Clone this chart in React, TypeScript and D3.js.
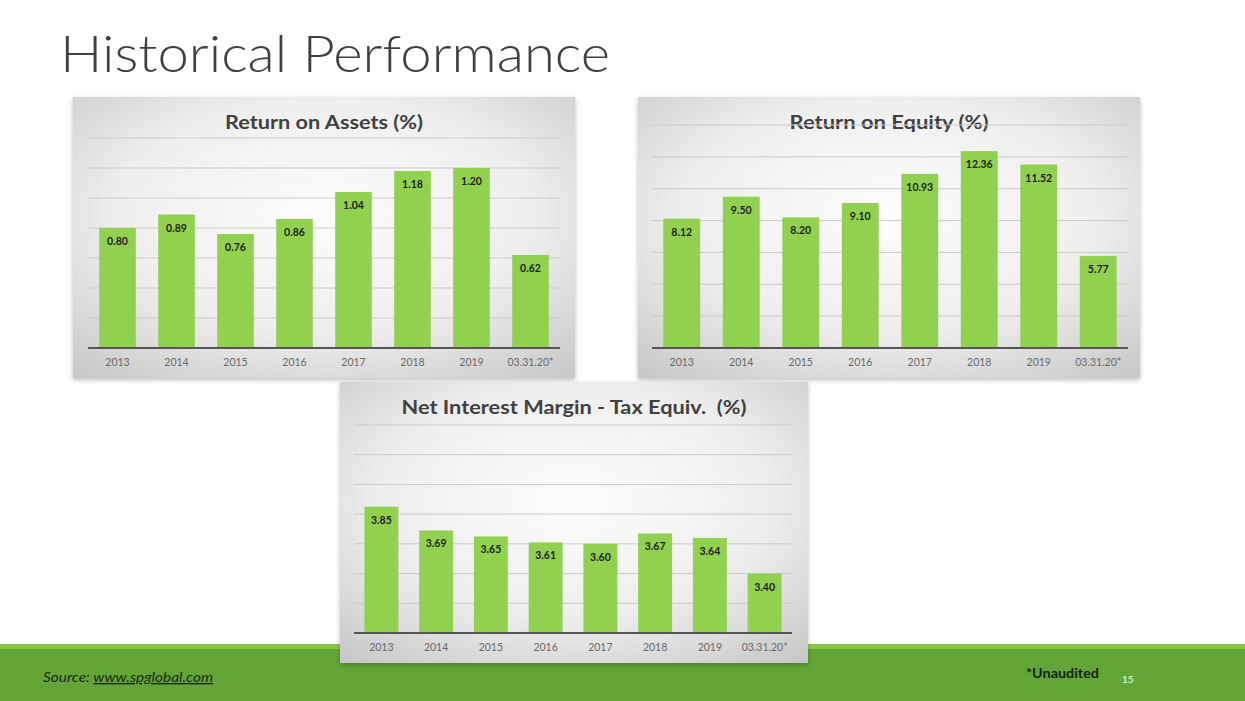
import React from "react";
import * as d3 from "d3";

const categories = ["2013", "2014", "2015", "2016", "2017", "2018", "2019", "03.31.20*"];
const roaValues = [0.8, 0.89, 0.76, 0.86, 1.04, 1.18, 1.2, 0.62];
const roeValues = [8.12, 9.5, 8.2, 9.1, 10.93, 12.36, 11.52, 5.77];
const nimValues = [3.85, 3.69, 3.65, 3.61, 3.6, 3.67, 3.64, 3.4];
const roaTicks = [0, 0.2, 0.4, 0.6, 0.8, 1.0, 1.2, 1.4];
const roeTicks = [0, 2, 4, 6, 8, 10, 12, 14];
const nimTicks = [3.0, 3.2, 3.4, 3.6, 3.8, 4.0, 4.2, 4.4];

const FONT = "Lato, 'Open Sans', 'DejaVu Sans', sans-serif";
const BAR = "#92D050";

type PanelProps = {
  id: string;
  box: { x: number; y: number; w: number; h: number };
  plot: { left: number; right: number; bottom: number; top: number };
  title: string;
  titleY: number;
  titleW: number;
  values: number[];
  ticks: number[];
};

function Panel({ id, box, plot, title, titleY, titleW, values, ticks }: PanelProps) {
  const x = d3.scaleBand<string>().domain(categories).range([plot.left, plot.right]).paddingInner(0.38).paddingOuter(0.19);
  const y = d3
    .scaleLinear()
    .domain([ticks[0], ticks[ticks.length - 1]])
    .range([plot.bottom, plot.top]);
  const fmt = d3.format(".2f");
  return (
    <g>
      <defs>
        <radialGradient id={`bg-${id}`} cx="50%" cy="42%" r="75%">
          <stop offset="0" stopColor="#fdfdfd" />
          <stop offset="0.55" stopColor="#eeeeee" />
          <stop offset="1" stopColor="#c8c8c8" />
        </radialGradient>
      </defs>
      <rect x={box.x} y={box.y} width={box.w} height={box.h} fill={`url(#bg-${id})`} filter="url(#shadow)" />
      <text
        x={box.x + box.w / 2}
        y={titleY}
        textAnchor="middle"
        fontFamily={FONT}
        fontWeight={700}
        fontSize={19}
        fill="#404040"
        textLength={titleW}
        lengthAdjust="spacingAndGlyphs"
        style={{ whiteSpace: "pre" }}
      >
        {title}
      </text>
      {ticks.slice(1).map((t) => (
        <line key={t} x1={plot.left} x2={plot.right} y1={y(t)} y2={y(t)} stroke="#cbcbcb" strokeWidth={1} />
      ))}
      {values.map((v, i) => (
        <rect
          key={categories[i]}
          x={x(categories[i])}
          y={y(v)}
          width={x.bandwidth()}
          height={plot.bottom - y(v)}
          fill={BAR}
        />
      ))}
      <line x1={plot.left} x2={plot.right} y1={plot.bottom} y2={plot.bottom} stroke="#555555" strokeWidth={2} />
      {values.map((v, i) => (
        <text
          key={"l" + categories[i]}
          x={(x(categories[i]) as number) + x.bandwidth() / 2}
          y={y(v) + 17}
          textAnchor="middle"
          fontFamily={FONT}
          fontWeight={700}
          fontSize={10.5}
          fill="#1f1f1f"
        >
          {fmt(v)}
        </text>
      ))}
      {categories.map((c) => (
        <text
          key={"c" + c}
          x={(x(c) as number) + x.bandwidth() / 2}
          y={plot.bottom + 18}
          textAnchor="middle"
          fontFamily={FONT}
          fontSize={10.5}
          fill="#6a6a6a"
        >
          {c}
        </text>
      ))}
    </g>
  );
}

export default function App() {
  return (
    <div style={{ position: "fixed", left: 0, top: 0, width: 1245, height: 701, background: "#ffffff" }}>
      <svg width={1245} height={701} viewBox="0 0 1245 701" style={{ display: "block" }}>
        <defs>
          <filter id="shadow" x="-5%" y="-5%" width="110%" height="115%">
            <feDropShadow dx="0" dy="2" stdDeviation="2.5" floodColor="#000000" floodOpacity="0.25" />
          </filter>
        </defs>
        <rect x={0} y={0} width={1245} height={701} fill="#ffffff" />
        <text
          x={60}
          y={72}
          fontFamily={FONT}
          fontWeight={300}
          fontSize={52}
          fill="#404040"
          textLength={550}
          lengthAdjust="spacingAndGlyphs"
        >
          Historical Performance
        </text>

        <rect x={0} y={644} width={1245} height={6} fill="#8DC641" />
        <rect x={0} y={649} width={1245} height={52} fill="#63A537" />

        <Panel
          id="roa"
          box={{ x: 73, y: 97, w: 502, h: 281 }}
          plot={{ left: 88, right: 560, bottom: 348, top: 138 }}
          title="Return on Assets (%)"
          titleY={129}
          titleW={198}
          values={roaValues}
          ticks={roaTicks}
        />
        <Panel
          id="roe"
          box={{ x: 638, y: 97, w: 502, h: 281 }}
          plot={{ left: 652, right: 1128, bottom: 348, top: 125 }}
          title="Return on Equity (%)"
          titleY={129}
          titleW={199}
          values={roeValues}
          ticks={roeTicks}
        />
        <Panel
          id="nim"
          box={{ x: 340, y: 382, w: 468, h: 281 }}
          plot={{ left: 354, right: 792, bottom: 633, top: 425 }}
          title="Net Interest Margin - Tax Equiv.  (%)"
          titleY={414}
          titleW={345}
          values={nimValues}
          ticks={nimTicks}
        />

        <text
          x={43}
          y={682}
          fontFamily={FONT}
          fontStyle="italic"
          fontSize={13.5}
          fill="#1b2a12"
          textLength={170}
          lengthAdjust="spacingAndGlyphs"
        >
          Source:{" "}
          <tspan textDecoration="underline">www.spglobal.com</tspan>
        </text>
        <text
          x={1026}
          y={678}
          fontFamily={FONT}
          fontWeight={700}
          fontSize={13}
          fill="#15240d"
          textLength={73}
          lengthAdjust="spacingAndGlyphs"
        >
          *Unaudited
        </text>
        <text x={1122} y={683} fontFamily={FONT} fontWeight={700} fontSize={10} fill="#d6efc2">
          15
        </text>
      </svg>
    </div>
  );
}
